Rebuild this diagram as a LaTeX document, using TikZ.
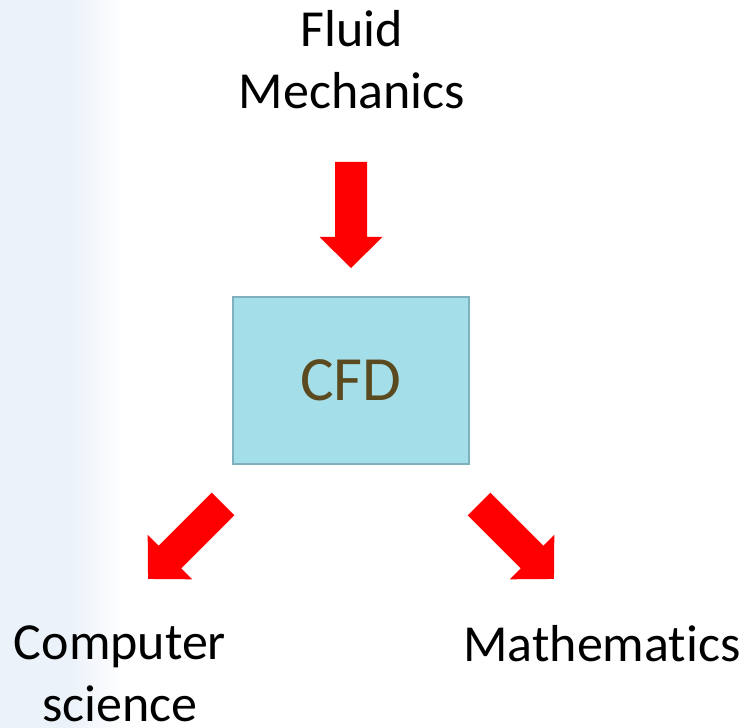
\documentclass[tikz,border=0pt]{standalone}
\usepackage{fontspec}
\setmainfont{Carlito}[Ligatures=NoCommon]
\definecolor{arrowred}{RGB}{255,0,0}
\definecolor{boxfill}{RGB}{164,222,232}
\definecolor{boxline}{RGB}{128,176,188}
\definecolor{cfdtext}{RGB}{91,74,31}
\definecolor{bgblue}{RGB}{235,242,249}
\tikzset{
  blockarrow/.pic={
    \fill[arrowred] (0,-16) -- (75,-16) -- (75,-31.5) -- (106,0)
      -- (75,31.5) -- (75,16) -- (0,16) -- cycle;
  },
  label/.style={font=\fontsize{52}{62.5}\selectfont, align=center, inner sep=0pt, text=black},
  cfdbox/.style={draw=boxline, line width=1.5pt, fill=boxfill,
    minimum width=236pt, minimum height=167pt, inner sep=0pt,
    font=\fontsize{63}{70}\selectfont, text=cfdtext}
}
\begin{document}
\begin{tikzpicture}[x=1pt, y=1pt]
  \useasboundingbox (0,0) rectangle (747,728);
  % soft blue band along the left edge
  \fill[bgblue] (0,0) rectangle (70,728);
  \shade[left color=bgblue, right color=white] (70,0) rectangle (122,728);

  % central box
  \node[cfdbox] (cfd) at (351,347.5) {CFD};

  % the three disciplines
  \node[label, anchor=base] (fluid) at (352,619) {Fluid\\Mechanics};
  \node[label, anchor=base] (cs) at (120,6) {Computer\\science};
  \node[label, anchor=base] (math) at (602,66) {Mathematics};

  % block arrows
  \coordinate (aTop) at (351,566);
  \coordinate (aLeft) at (223,224);
  \coordinate (aRight) at (479,224);
  \pic[rotate=-90] at (aTop) {blockarrow};
  \pic[rotate=225] at (aLeft) {blockarrow};
  \pic[rotate=-45] at (aRight) {blockarrow};
\end{tikzpicture}
\end{document}
